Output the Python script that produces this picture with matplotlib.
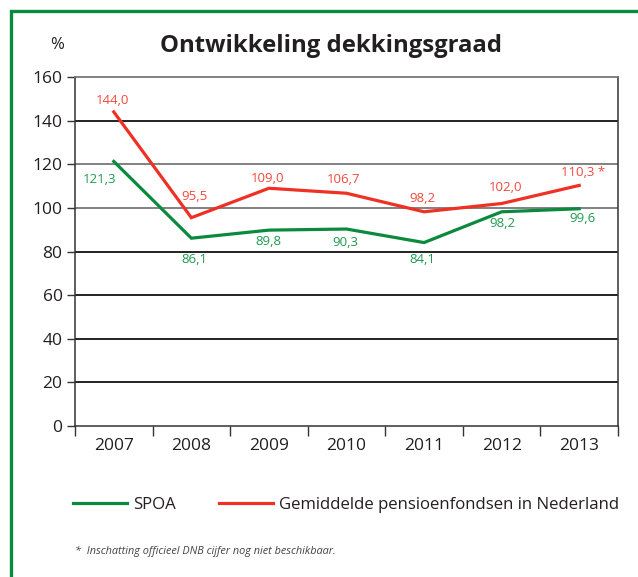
import matplotlib.pyplot as plt
from matplotlib.patches import Rectangle

years = ["2007", "2008", "2009", "2010", "2011", "2012", "2013"]
spoa = [121.3, 86.1, 89.8, 90.3, 84.1, 98.2, 99.6]
nl_avg = [144.0, 95.5, 109.0, 106.7, 98.2, 102.0, 110.3]
spoa_labels = ["121,3", "86,1", "89,8", "90,3", "84,1", "98,2", "99,6"]
nl_labels = ["144,0", "95,5", "109,0", "106,7", "98,2", "102,0", "110,3 *"]
yticks = [0, 20, 40, 60, 80, 100, 120, 140, 160]

GREEN = "#0b8a3e"
RED = "#ee3124"
GREEN_TXT = "#1f9a4e"
RED_TXT = "#f04a3e"
TXT = "#231f20"

plt.rcParams["font.family"] = ["Open Sans", "DejaVu Sans"]

W, H = 638, 577
fig = plt.figure(figsize=(W / 100, H / 100), dpi=100)
ax = fig.add_axes([75 / W, 1 - 426 / H, (618 - 75) / W, (426 - 77) / H])

# green frame (right and bottom run off the picture)
fig.patches.append(
    Rectangle((11 / W, -0.2), 1.5, 1.2 - 11 / H, transform=fig.transFigure,
              fill=False, edgecolor=GREEN, lw=2.4, clip_on=False)
)

x = list(range(len(years)))
ax.plot(x, spoa, color=GREEN, lw=2.3, solid_joinstyle="miter", zorder=3)
ax.plot(x, nl_avg, color=RED, lw=2.3, solid_joinstyle="miter", zorder=3)

# value labels (pixel offsets from the points)
spoa_off = [(-14, -18), (3, -21), (-1, -11), (-1, -13), (-2, -17), (1, -12), (3, -10)]
nl_off = [(-1, 11), (3, 21), (-1, 10), (-3, 14), (-2, 13), (4, 16), (4, 13)]
for i in x:
    ax.annotate(spoa_labels[i], (i, spoa[i]), xytext=spoa_off[i],
                textcoords="offset pixels", ha="center", va="center",
                color=GREEN_TXT, fontsize=9.5)
    ax.annotate(nl_labels[i], (i, nl_avg[i]), xytext=nl_off[i],
                textcoords="offset pixels", ha="center", va="center",
                color=RED_TXT, fontsize=9.5)

ax.set_xlim(-0.5, len(years) - 0.5)
ax.set_ylim(0, 160)
ax.set_yticks(yticks)
ax.set_yticklabels([str(v) for v in yticks])
ax.set_xticks([i - 0.5 for i in range(len(years) + 1)])
ax.set_xticklabels([])
ax.set_xticks(x, minor=True)
ax.set_xticklabels(years, minor=True)
ax.tick_params(axis="x", which="major", length=7, width=1, color="#333333", direction="out")
ax.tick_params(axis="x", which="minor", length=0, pad=9, labelsize=12.5, labelcolor=TXT)
ax.tick_params(axis="y", length=6, width=1, color="#333333", pad=3, labelsize=12.5, labelcolor=TXT)

for v in yticks[1:-1]:
    c = "#777777" if v in (100, 120) else "#111111"
    ax.axhline(v, color=c, lw=1.3, zorder=1)
ax.spines["top"].set_color("#777777")
ax.spines["top"].set_linewidth(1.3)
for s in ("left", "bottom", "right"):
    ax.spines[s].set_color("#333333")
    ax.spines[s].set_linewidth(1.1)

fig.text(331 / W, 1 - 46 / H, "Ontwikkeling dekkingsgraad", ha="center", va="center",
         fontsize=17.2, fontweight="bold", color=TXT)
fig.text(57 / W, 1 - 45 / H, "%", ha="center", va="center", fontsize=12, color=TXT)

h1, = ax.plot([], [], color=GREEN, lw=2.3)
h2, = ax.plot([], [], color=RED, lw=2.3)
fig.legend([h1, h2], ["SPOA", "Gemiddelde pensioenfondsen in Nederland"],
           loc="center left", bbox_to_anchor=(73 / W, 1 - 505 / H), ncol=2,
           frameon=False, fontsize=12.1, handlelength=3.2, handletextpad=0.35,
           columnspacing=2.6, borderpad=0, borderaxespad=0, labelcolor=TXT)

fig.text(75 / W, 1 - 551 / H, "*  Inschatting officieel DNB cijfer nog niet beschikbaar.",
         ha="left", va="center", fontsize=7.8, style="italic", color="#444444")

fig.savefig("out.png", dpi=100)
